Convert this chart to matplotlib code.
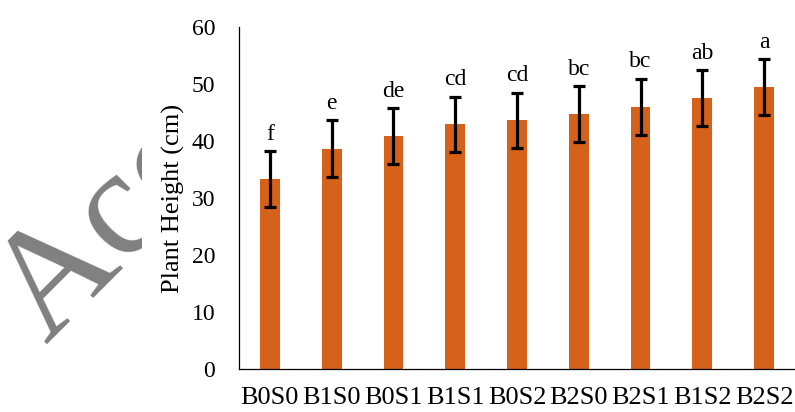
import numpy as np
import matplotlib
matplotlib.use('Agg')
import matplotlib.pyplot as plt
from matplotlib.patches import Rectangle

treatments = ['B0S0', 'B1S0', 'B0S1', 'B1S1', 'B0S2', 'B2S0', 'B2S1', 'B1S2', 'B2S2']
height = [33.3, 38.6, 40.9, 42.9, 43.6, 44.7, 46.0, 47.5, 49.4]
error = [4.9, 5.0, 4.9, 4.9, 4.9, 4.9, 4.9, 4.9, 4.9]
letters = ['f', 'e', 'de', 'cd', 'cd', 'bc', 'bc', 'ab', 'a']

plt.rcParams['font.family'] = 'Liberation Serif'

fig = plt.figure(figsize=(7.95, 4.12), dpi=100)

# watermark, hidden behind the white plot area
wm = fig.text(0.0572, 0.165, 'Acc', fontsize=110, color='#808080',
              rotation=45, rotation_mode='anchor', ha='left', va='baseline')
wm.set_clip_path(Rectangle((0, 0), 0.178, 1, transform=fig.transFigure))

ax = fig.add_axes([0.3006, 0.1044, 0.6994, 0.8301])
x = np.arange(len(treatments))
ax.bar(x, height, width=0.32, color='#D6611A', zorder=2)
ax.errorbar(x, height, yerr=error, fmt='none', ecolor='black',
            elinewidth=2.3, capsize=4.6, capthick=2.3, zorder=3)
for xi, h, e, lab in zip(x, height, error, letters):
    ax.text(xi, h + e + 2.0, lab, ha='center', va='baseline', fontsize=17)

ax.set_xlim(-0.5, 8.5)
ax.set_ylim(0, 60)
ax.set_yticks(range(0, 61, 10))
ax.set_xticks(x)
ax.set_xticklabels(treatments, fontsize=19)
ax.tick_params(axis='y', length=0, pad=17, labelsize=17)
ax.tick_params(axis='x', length=0, pad=13)
ax.set_ylabel('Plant Height (cm)', fontsize=19, labelpad=5)
for s in ['top', 'right']:
    ax.spines[s].set_visible(False)
for s in ['left', 'bottom']:
    ax.spines[s].set_linewidth(0.9)

fig.savefig('out.png', dpi=100)
